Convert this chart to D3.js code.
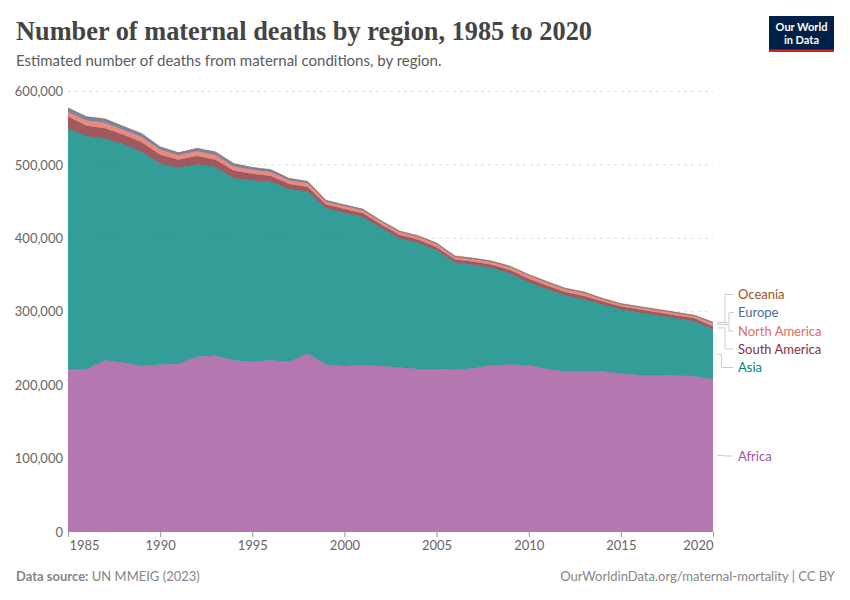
<!DOCTYPE html>
<html>
<head>
<meta charset="utf-8">
<script src="https://cdn.jsdelivr.net/npm/d3@7"></script>
<style>
    html, body { margin: 0; padding: 0; background: #fff; }
    text { font-family: Lato, "Open Sans", sans-serif; }
</style>
</head>
<body>
<div id="chart"></div>
<script>
const years = d3.range(1985, 2021);
const regions = ["Africa", "Asia", "South America", "North America", "Europe", "Oceania"];
const yTicks = [0, 100000, 200000, 300000, 400000, 500000, 600000];
const xTicks = [1985, 1990, 1995, 2000, 2005, 2010, 2015, 2020];

// thousands of deaths
const africa = [222, 222, 234, 231, 226, 228, 229, 239, 240, 234, 232, 234, 232, 243, 228, 226, 227, 226, 224, 222, 222, 221, 223, 227, 228, 227, 222, 219, 219, 219, 216, 214, 214, 213, 212, 208];
const asia = [328, 317, 302, 297, 292, 274, 267, 262, 257, 248, 247, 243, 235, 221, 213, 209, 202, 188, 176, 172, 162, 146, 141, 133, 124, 113, 109, 103, 98, 91, 87, 85, 81, 78, 75, 68];
const southAmerica = [16, 14.5, 14, 13, 13, 12, 11, 11, 10, 10, 9, 8, 7, 6, 5, 5, 5, 4.5, 4.5, 4, 4, 4, 4, 4, 4.5, 5, 4.5, 4.5, 4.5, 4, 4, 4, 4, 4, 4, 4];
const northAmerica = [6, 7, 7.5, 7, 7, 6.5, 6, 6.5, 6.5, 6, 5.5, 5.5, 5, 5, 4, 4, 4, 4, 4, 4, 4, 3.5, 3.5, 3.5, 4, 4, 4, 4, 4, 3, 3, 3, 3, 3, 3, 4.5];
const europe = [5, 4.5, 4.5, 4, 4, 3.5, 3, 3.5, 3.5, 3, 2.5, 2.5, 2, 2, 1.3, 1.3, 1.3, 1, 1, 1, 1.2, 1, 1, 1, 1, 1.2, 1, 1, 1, 0.7, 0.7, 0.7, 0.7, 0.7, 0.7, 0.8];
const oceania = [0.8, 0.8, 0.8, 0.8, 0.8, 0.8, 0.8, 0.8, 0.8, 0.8, 0.7, 0.7, 0.7, 0.7, 0.6, 0.6, 0.6, 0.6, 0.6, 0.6, 0.6, 0.6, 0.6, 0.6, 0.6, 0.6, 0.6, 0.6, 0.6, 0.6, 0.6, 0.6, 0.6, 0.6, 0.6, 0.6];

const seriesByRegion = {
    "Africa": africa,
    "Asia": asia,
    "South America": southAmerica,
    "North America": northAmerica,
    "Europe": europe,
    "Oceania": oceania
};

const colors = {
    "Africa": "#A2559C",
    "Asia": "#00847E",
    "South America": "#883039",
    "North America": "#E56E5A",
    "Europe": "#4C6A9C",
    "Oceania": "#9A5129"
};

const width = 850, height = 600;
const margin = { top: 91.5, right: 137, bottom: 68, left: 68 };

const rows = years.map((year, i) => {
    let row = { year };
    regions.forEach(r => { row[r] = seriesByRegion[r][i] * 1000; });
    return row;
});

const stacked = d3.stack().keys(regions)(rows);

const x = d3.scaleLinear().domain([1985, 2020]).range([margin.left, width - margin.right]);
const y = d3.scaleLinear().domain([0, 600000]).range([height - margin.bottom, margin.top]);

const svg = d3.select("#chart").append("svg")
    .attr("width", width)
    .attr("height", height)
    .style("display", "block");

// y axis with dashed grid
svg.append("g")
    .attr("class", "y-axis")
    .attr("transform", `translate(${margin.left},0)`)
    .call(d3.axisLeft(y).tickValues(yTicks).tickFormat(d3.format(",")).tickSize(0).tickPadding(5))
    .call(g => g.select(".domain").remove())
    .call(g => g.selectAll("text").attr("fill", "#666").style("font-size", "13px"));

svg.append("g")
    .attr("class", "grids")
    .selectAll("line")
    .data(yTicks.slice(1))
    .join("line")
    .attr("x1", margin.left)
    .attr("x2", width - margin.right)
    .attr("y1", d => y(d))
    .attr("y2", d => y(d))
    .attr("stroke", "#dddddd")
    .attr("stroke-dasharray", "3,4");

// stacked areas
const area = d3.area()
    .x(d => x(d.data.year))
    .y0(d => y(d[0]))
    .y1(d => y(d[1]));

const topLine = d3.line()
    .x(d => x(d.data.year))
    .y(d => y(d[1]));

const layers = svg.append("g").attr("class", "areas")
    .selectAll("g")
    .data(stacked)
    .join("g");

layers.append("path")
    .attr("d", area)
    .attr("fill", d => colors[d.key])
    .attr("fill-opacity", 0.8);

layers.append("path")
    .attr("d", topLine)
    .attr("fill", "none")
    .attr("stroke", d => colors[d.key])
    .attr("stroke-opacity", 0.7)
    .attr("stroke-width", 0.5);

// x axis
const xAxis = svg.append("g")
    .attr("class", "x-axis")
    .attr("transform", `translate(0,${height - margin.bottom})`)
    .call(d3.axisBottom(x).tickValues(xTicks).tickFormat(d3.format("d")).tickSize(5).tickPadding(4));

xAxis.select(".domain").remove();
xAxis.selectAll("line").attr("stroke", "#999");
xAxis.selectAll("text")
    .attr("fill", "#666")
    .style("font-size", "13px")
    .attr("text-anchor", d => d == 1985 ? "start" : d == 2020 ? "end" : "middle")
    .attr("dx", d => d == 1985 ? 1 : 0);

// series labels and their connector lines
const lastIndex = years.length - 1;
const labelLayout = [
    { region: "Oceania", labelY: 294.5, elbowX: 725 },
    { region: "Europe", labelY: 312.5, elbowX: 729 },
    { region: "North America", labelY: 331, elbowX: 729 },
    { region: "South America", labelY: 349, elbowX: 725 },
    { region: "Asia", labelY: 367.5, elbowX: 721.5 },
    { region: "Africa", labelY: 456, elbowX: 725 }
];

const labels = svg.append("g").attr("class", "labels");

labelLayout.forEach(item => {
    const layer = stacked.find(s => s.key == item.region)[lastIndex];
    const startY = y((layer[0] + layer[1]) / 2);
    labels.append("path")
        .attr("d", `M717,${startY}H${item.elbowX}V${item.labelY}H733.5`)
        .attr("fill", "none")
        .attr("stroke", "#cccccc")
        .attr("stroke-width", 1);
    labels.append("text")
        .attr("x", 738)
        .attr("y", item.labelY)
        .attr("dy", "0.35em")
        .attr("fill", colors[item.region])
        .style("font-size", "13px")
        .text(item.region);
});

// title block
svg.append("text")
    .attr("x", 16)
    .attr("y", 40)
    .attr("fill", "#444")
    .attr("textLength", 576)
    .attr("lengthAdjust", "spacingAndGlyphs")
    .style("font-family", "'Liberation Serif', serif")
    .style("font-weight", 700)
    .style("font-size", "28px")
    .text("Number of maternal deaths by region, 1985 to 2020");

svg.append("text")
    .attr("x", 16)
    .attr("y", 66)
    .attr("fill", "#5b5b5b")
    .style("font-size", "15px")
    .text("Estimated number of deaths from maternal conditions, by region.");

// footer
const source = svg.append("text")
    .attr("x", 16)
    .attr("y", 581)
    .attr("fill", "#858585")
    .style("font-size", "13px");
source.append("tspan").style("font-weight", 700).text("Data source:");
source.append("tspan").text(" UN MMEIG (2023)");

svg.append("text")
    .attr("x", 835)
    .attr("y", 581)
    .attr("text-anchor", "end")
    .attr("fill", "#858585")
    .style("font-size", "13px")
    .text("OurWorldinData.org/maternal-mortality | CC BY");

// logo
const logo = svg.append("g").attr("class", "logo");
logo.append("rect").attr("x", 769).attr("y", 16).attr("width", 65).attr("height", 36).attr("fill", "#002147");
logo.append("rect").attr("x", 769).attr("y", 49.5).attr("width", 65).attr("height", 2.5).attr("fill", "#ce261e");
logo.selectAll("text")
    .data(["Our World", "in Data"])
    .join("text")
    .attr("x", 801.5)
    .attr("y", (d, i) => 30.5 + i * 13.2)
    .attr("text-anchor", "middle")
    .attr("fill", "#fff")
    .style("font-size", "11px")
    .style("font-weight", 700)
    .text(d => d);
</script>
</body>
</html>
